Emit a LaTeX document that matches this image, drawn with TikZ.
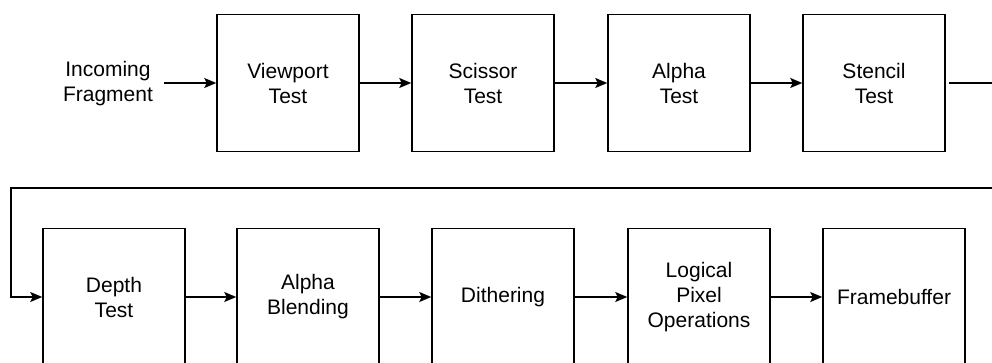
\documentclass[tikz,border=0pt]{standalone}
\usepackage{fontspec}
\setmainfont{Liberation Sans}
\usetikzlibrary{arrows.meta}
\begin{document}
\begin{tikzpicture}[x=1pt,y=-1pt,
  stage/.style={draw, line width=1.5pt, minimum width=142pt, minimum height=137pt,
    inner sep=0pt, align=center, font=\fontsize{21}{25}\selectfont},
  label/.style={align=center, inner sep=0pt, font=\fontsize{21}{25}\selectfont},
  flow/.style={line width=1.5pt, -{Stealth[length=12pt,width=10pt,inset=2.5pt]}}]
\useasboundingbox (0,0) rectangle (992,363);
\clip (0,0) rectangle (992,363);
% first row of the fragment pipeline
\node[label] (in) at (108,84) {Incoming\\Fragment};
\node[stage] (viewport) at (288,83) {Viewport\\Test};
\node[stage] (scissor)  at (483,83) {Scissor\\Test};
\node[stage] (alpha)    at (679,83) {Alpha\\Test};
\node[stage] (stencil)  at (874,83) {Stencil\\Test};
% second row
\node[stage] (depth)    at (114,297) {Depth\\Test};
\node[stage] (blend)    at (308,297) {Alpha\\Blending};
\node[stage] (dither)   at (503,297) {Dithering};
\node[stage] (logic)    at (699,297) {Logical\\Pixel\\Operations};
\node[stage] (fb)       at (894,297) {Framebuffer};
\coordinate (inS) at (164,83);
\coordinate (wrapL) at (11,188);
% connectors
\draw[flow] (inS) -- (viewport.west);
\draw[flow] (viewport) -- (scissor);
\draw[flow] (scissor) -- (alpha);
\draw[flow] (alpha) -- (stencil);
\draw[flow] (stencil.east) ++(3pt,0) -- ++(60,0) |- (wrapL) |- (depth.west);
\draw[flow] (depth) -- (blend);
\draw[flow] (blend) -- (dither);
\draw[flow] (dither) -- (logic);
\draw[flow] (logic) -- (fb);
\end{tikzpicture}
\end{document}
